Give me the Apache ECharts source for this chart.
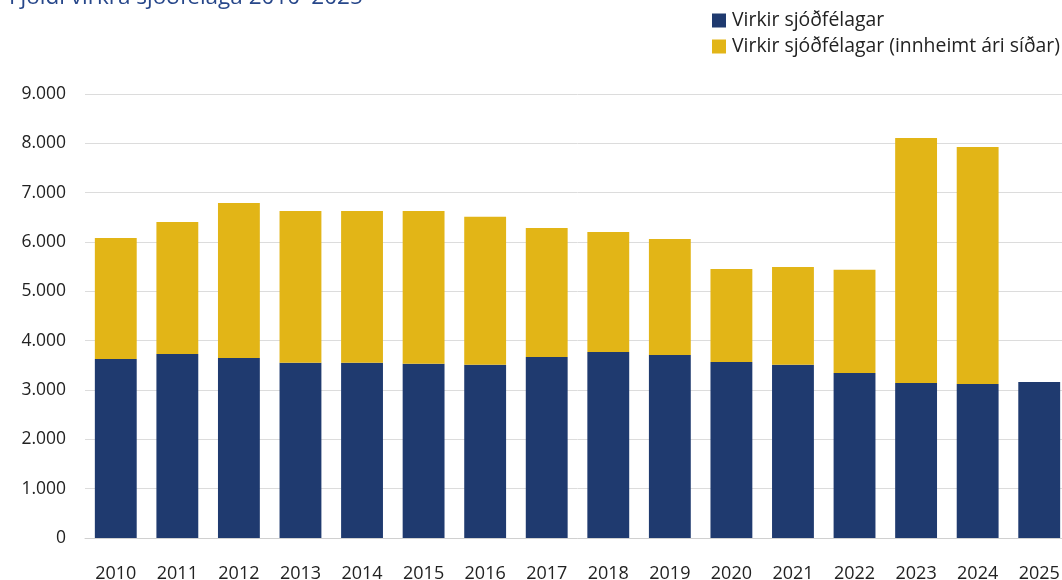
<!DOCTYPE html>
<html>
<head>
<meta charset="utf-8">
<script src="https://cdn.jsdelivr.net/npm/echarts@6/dist/echarts.min.js"></script>
<style>
  html, body { margin: 0; padding: 0; background: #fff; overflow: hidden; }
  /* plot runs slightly past the right edge, like the original */
  #chart { width: 1070px; height: 580px; }
</style>
</head>
<body>
<div id="chart"></div>
<script>
// ár
const years = ['2010', '2011', '2012', '2013', '2014', '2015', '2016', '2017',
  '2018', '2019', '2020', '2021', '2022', '2023', '2024', '2025']

// Virkir sjóðfélagar
const virkir = [3630, 3730, 3650, 3550, 3550, 3530, 3510, 3670,
  3770, 3710, 3570, 3510, 3345, 3140, 3120, 3160]

// Virkir sjóðfélagar (innheimt ári síðar)
const innheimt = [2450, 2675, 3140, 3080, 3080, 3100, 3000, 2615,
  2435, 2350, 1885, 1985, 2090, 4970, 4805, null]

const seriesNames = ['Virkir sjóðfélagar', 'Virkir sjóðfélagar (innheimt ári síðar)']
const colors = ['#1f3a6f', '#e2b517']

const fontFamily = '"Open Sans", "Noto Sans", sans-serif'

function fmt(v) {
  return String(v).replace(/\B(?=(\d{3})+(?!\d))/g, '.')
}

const chart = echarts.init(document.getElementById('chart'))

chart.setOption({
  animation: false,
  color: colors,
  textStyle: { fontFamily },
  title: {
    text: 'Fjöldi virkra sjóðfélaga 2010–2025',
    left: 4,
    top: -19,
    textStyle: { fontSize: 22.5, fontWeight: 'normal', color: '#27478a', fontFamily }
  },
  legend: {
    orient: 'vertical',
    left: 707,
    top: 6,
    itemWidth: 14,
    itemHeight: 14,
    itemGap: 7,
    icon: 'rect',
    data: seriesNames,
    textStyle: { fontSize: 19.4, color: '#222', fontFamily, padding: [0, 0, 0, 1] }
  },
  grid: {
    left: 85,
    right: 0,
    top: 94,
    bottom: 42,
    containLabel: false,
    outerBoundsMode: 'none'
  },
  xAxis: {
    type: 'category',
    data: years,
    axisLine: { lineStyle: { color: '#d0d0d0', width: 1 } },
    axisTick: { show: false },
    axisLabel: { color: '#222', fontSize: 18, margin: 27, fontFamily }
  },
  yAxis: {
    type: 'value',
    min: 0,
    max: 9000,
    interval: 1000,
    axisLine: { show: false },
    axisTick: { show: false },
    splitLine: { lineStyle: { color: '#dcdcdc', width: 1 } },
    axisLabel: { color: '#222', fontSize: 17.5, margin: 19, fontFamily, formatter: fmt }
  },
  series: [
    {
      name: seriesNames[0],
      type: 'bar',
      stack: 'total',
      data: virkir,
      barWidth: '68%',
      itemStyle: { color: colors[0] }
    },
    {
      name: seriesNames[1],
      type: 'bar',
      stack: 'total',
      data: innheimt,
      barWidth: '68%',
      itemStyle: { color: colors[1] }
    }
  ]
})
</script>
</body>
</html>
